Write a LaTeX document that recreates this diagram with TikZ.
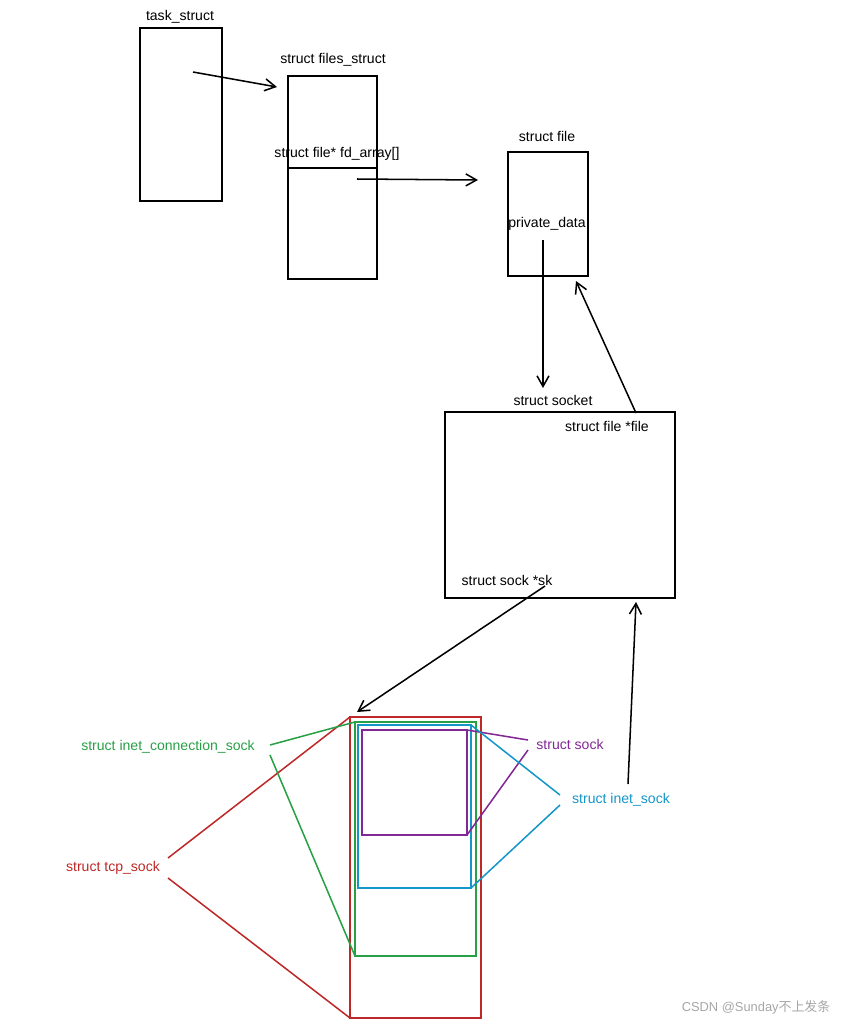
\documentclass[tikz,border=0pt]{standalone}
\usepackage{fontspec}
\setmainfont{Liberation Sans}
\newfontfamily\cjk{Noto Sans CJK SC}
\usetikzlibrary{arrows.meta}
\definecolor{tcpred}{RGB}{190,40,40}
\definecolor{icsgreen}{RGB}{40,160,70}
\definecolor{inetblue}{RGB}{20,150,200}
\definecolor{sockpurple}{RGB}{130,40,150}
\begin{document}
\begin{tikzpicture}[x=0.3mm,y=-0.3mm,line width=1.3pt,
  lbl/.style={font=\fontsize{12}{14}\selectfont, inner sep=1pt},
  arr/.style={draw,-{Straight Barb[length=3.2mm,width=3.6mm]}}]
\useasboundingbox (0,0) rectangle (852,1024);
% task_struct and files_struct
\draw (140,28) rectangle (222,201);
\node[lbl] (tasklbl) at (180,17) {task\_struct};
\draw (288,76) rectangle (377,279);
\draw (288,168) -- (377,168);
\node[lbl] (fileslbl) at (333,60) {struct files\_struct};
\node[lbl] (fdarr) at (337,154) {struct file* fd\_array[]};
\coordinate (t1) at (193,72);
\coordinate (t2) at (277,87);
\path[arr] (t1) -- (t2);
\coordinate (f1) at (357,179);
\coordinate (f2) at (478,180);
\path[arr] (f1) -- (f2);
% struct file
\draw (508,152) rectangle (588,276);
\node[lbl] (filelbl) at (547,136) {struct file};
\node[lbl] (priv) at (547,224) {private\_data};
\coordinate (p1) at (543,240);
\coordinate (p2) at (543,388);
\path[arr] (p1) -- (p2);
% struct socket
\draw (445,412) rectangle (675,598);
\node[lbl] (socklbl) at (553,400) {struct socket};
\node[lbl] (sfile) at (607,426) {struct file *file};
\node[lbl] (ssk) at (507,580) {struct sock *sk};
\coordinate (s1) at (636,413);
\coordinate (s2) at (576,281);
\path[arr] (s1) -- (s2);
\coordinate (k1) at (545,586);
\coordinate (k2) at (357,712);
\path[arr] (k1) -- (k2);
\coordinate (b1) at (628,784);
\coordinate (b2) at (636,602);
\path[arr] (b1) -- (b2);
% nested socks
\draw[tcpred] (350,717) rectangle (481,1018);
\draw[icsgreen] (355,722) rectangle (476,956);
\draw[inetblue] (358,725) rectangle (471,888);
\draw[sockpurple] (362,730) rectangle (467,835);
\node[lbl,text=tcpred] (tcp) at (113,868) {struct tcp\_sock};
\draw[tcpred] (168,858) -- (350,717) (168,878) -- (350,1018);
\node[lbl,text=icsgreen] (ics) at (168,747) {struct inet\_connection\_sock};
\draw[icsgreen] (270,745) -- (355,722) (270,755) -- (355,956);
\node[lbl,text=sockpurple] (sock) at (570,744) {struct sock};
\draw[sockpurple] (528,740) -- (467,730) (528,750) -- (467,835);
\node[lbl,text=inetblue] (inet) at (621,800) {struct inet\_sock};
\draw[inetblue] (560,795) -- (471,725) (560,805) -- (471,888);
\node[lbl,text=gray!70,font=\fontsize{11}{13}\selectfont] (wm) at (756,1007) {CSDN @Sunday{\cjk 不上发条}};
\end{tikzpicture}
\end{document}
